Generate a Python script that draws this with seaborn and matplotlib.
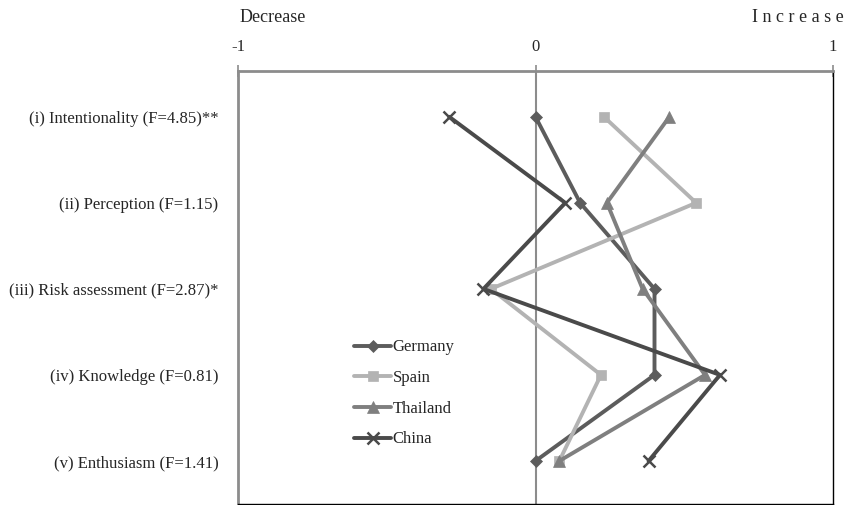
import numpy as np
import pandas as pd
import seaborn as sns
import matplotlib.pyplot as plt

categories = ["(i) Intentionality (F=4.85)**", "(ii) Perception (F=1.15)",
              "(iii) Risk assessment (F=2.87)*", "(iv) Knowledge (F=0.81)",
              "(v) Enthusiasm (F=1.41)"]
germany = [0.00, 0.15, 0.40, 0.40, 0.00]
spain = [0.23, 0.54, -0.15, 0.22, 0.08]
thailand = [0.45, 0.24, 0.36, 0.57, 0.08]
china = [-0.29, 0.10, -0.175, 0.62, 0.38]

sns.set_style("white")
plt.rcParams['font.family'] = ['Liberation Serif', 'DejaVu Serif']

fig = plt.figure(figsize=(8.48, 5.05), dpi=100)
ax = fig.add_axes([0.2807, 0.002, 0.7016, 0.857])

pos = np.arange(len(categories))
series = [("Germany", germany, "#5c5c5c", "D", 6),
          ("Spain", spain, "#b3b3b3", "s", 7),
          ("Thailand", thailand, "#7f7f7f", "^", 8),
          ("China", china, "#4a4a4a", "x", 8)]
ax.axvline(0, color="#8c8c8c", lw=1.5, zorder=0)
for name, vals, col, mk, ms in series:
    df = pd.DataFrame({"v": vals, "p": pos})
    sns.lineplot(data=df, x="v", y="p", sort=False, orient="y", color=col, lw=2.8,
                 marker=mk, markersize=ms, markeredgecolor=col,
                 markeredgewidth=1.8 if mk == "x" else 0.5, label=name, ax=ax)

ax.set_xlim(-1, 1)
ax.set_ylim(4.5, -0.53)
ax.xaxis.tick_top()
ax.set_xticks([-1, 0, 1])
ax.set_xticklabels(["-1", "0", "1"], fontsize=12)
ax.tick_params(axis="x", direction="inout", length=8, width=1.2, color="#8c8c8c", pad=8)
ax.set_yticks(pos)
ax.set_yticklabels(categories, fontsize=12)
ax.set_yticks(pos[:-1] + 0.5, minor=True)
ax.tick_params(axis="y", which="major", length=0, pad=14)
ax.tick_params(axis="y", which="minor", direction="out", length=5, width=1.2, color="#8c8c8c")
ax.set_xlabel("")
ax.set_ylabel("")
for s in ["top", "left"]:
    ax.spines[s].set_color("#8c8c8c")
    ax.spines[s].set_linewidth(2)
for s in ["right", "bottom"]:
    ax.spines[s].set_color("black")
    ax.spines[s].set_linewidth(1)

fig.text(0.283, 0.965, "Decrease", fontsize=13, ha="left", va="center")
fig.text(0.995, 0.965, "I n c r e a s e", fontsize=13, ha="right", va="center")

ax.legend(loc="upper left", bbox_to_anchor=(0.17, 0.415), frameon=False,
          fontsize=12, handlelength=2.2, handletextpad=0.1, labelspacing=0.88)

fig.savefig("out.png", dpi=100)
